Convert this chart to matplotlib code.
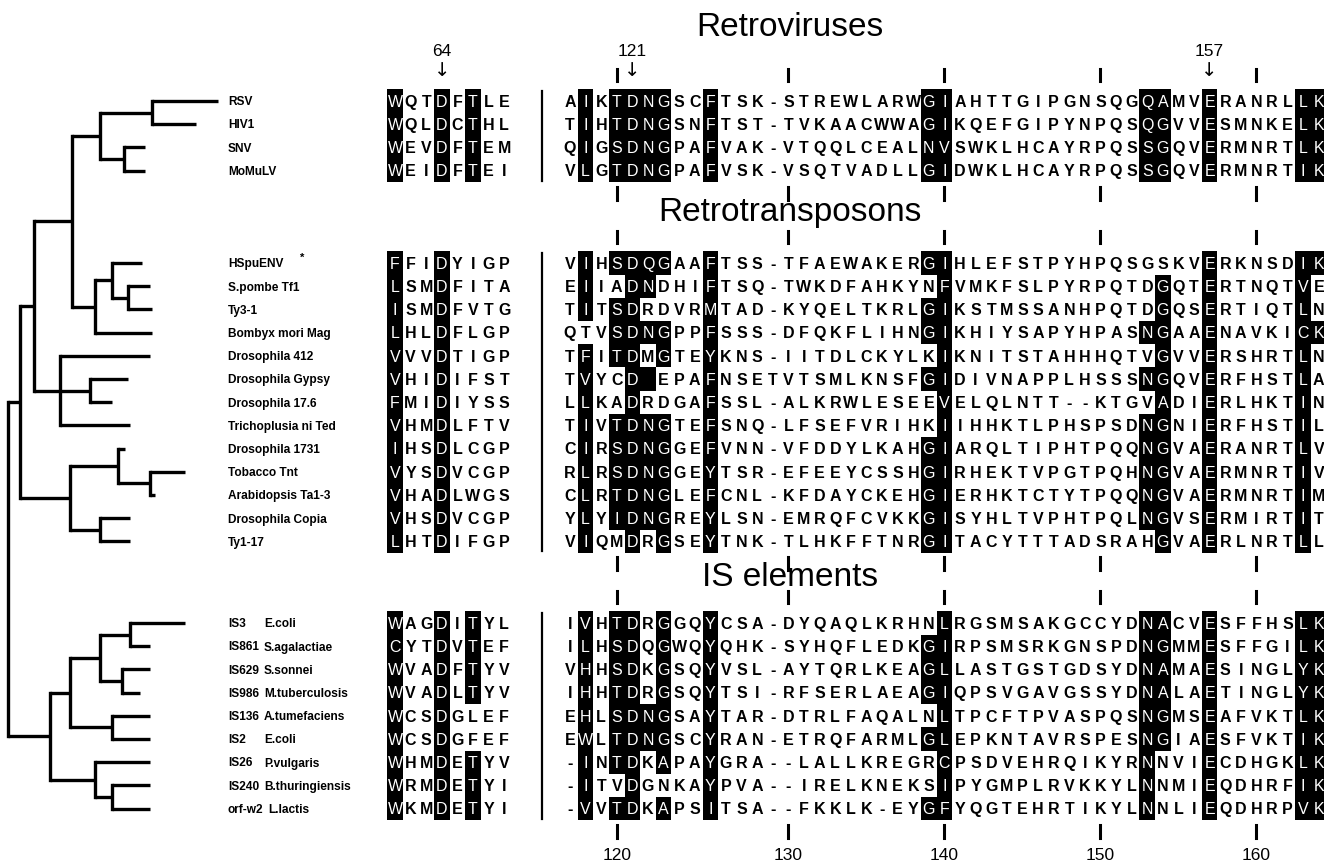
import numpy as np
import matplotlib.pyplot as plt
from matplotlib.patches import Rectangle

# ---- data -------------------------------------------------------------
group_titles = ["Retroviruses", "Retrotransposons", "IS elements"]

retro_names = ["RSV", "HIV1", "SNV", "MoMuLV"]
retro_left = ["WQTDFTLE", "WQLDCTHL", "WEVDFTEM", "WEIDFTEI"]
retro_right = [
    "AIKTDNGSCFTSK-STREWLARWGIAHTTGIPGNSQGQAMVERANRLLK",
    "TIHTDNGSNFTST-TVKAACWWAGIKQEFGIPYNPQSQGVVESMNKELK",
    "QIGSDNGPAFVAK-VTQQLCEALNVSWKLHCAYRPQSSGQVERMNRTLK",
    "VLGTDNGPAFVSK-VSQTVADLLGIDWKLHCAYRPQSSGQVERMNRTIK",
]
retro_left_shade = [[1, 4, 6]] * 4
retro_right_shade = [[2, 4, 5, 6, 7, 10, 24, 25, 38, 39, 42, 48, 49]] * 4

rt_names = ["HSpuENV", "S.pombe Tf1", "Ty3-1", "Bombyx mori Mag", "Drosophila 412",
            "Drosophila Gypsy", "Drosophila 17.6", "Trichoplusia ni Ted",
            "Drosophila 1731", "Tobacco Tnt", "Arabidopsis Ta1-3",
            "Drosophila Copia", "Ty1-17"]
rt_left = ["FFIDYIGP", "LSMDFITA", "ISMDFVTG", "LHLDFLGP", "VVVDTIGP", "VHIDIFST",
           "FMIDIYSS", "VHMDLFTV", "IHSDLCGP", "VYSDVCGP", "VHADLWGS", "VHSDVCGP",
           "LHTDIFGP"]
rt_right = [
    "VIHSDQGAAFTSS-TFAEWAKERGIHLEFSTPYHPQSGSKVERKNSDIK",
    "EIIADNDHIFTSQ-TWKDFAHKYNFVMKFSLPYRPQTDGQTERTNQTVE",
    "TITSDRDVRMTAD-KYQELTKRLGIKSTMSSANHPQTDGQSERTIQTLN",
    "QTVSDNGPPFSSS-DFQKFLIHNGIKHIYSAPYHPASNGAAENAVKICK",
    "TFITDMGTEYKNS-IITDLCKYLKIKNITSTAHHHQTVGVVERSHRTLN",
    "TVYCD EPAFNSETVTSMLKNSFGIDIVNAPPLHSSSNGQVERFHSTLA",
    "LLKADRDGAFSSL-ALKRWLESEEVELQLNTT--KTGVADIERLHKTIN",
    "TIVTDNGTEFSNQ-LFSEFVRIHKIIHHKTLPHSPSDNGNIERFHSTIL",
    "CIRSDNGGEFVNN-VFDDYLKAHGIARQLTIPHTPQQNGVAERANRTLV",
    "RLRSDNGGEYTSR-EFEEYCSSHGIRHEKTVPGTPQHNGVAERMNRTIV",
    "CLRTDNGLEFCNL-KFDAYCKEHGIERHKTCTYTPQQNGVAERMNRTIM",
    "YLYIDNGREYLSN-EMRQFCVKKGISYHLTVPHTPQLNGVSERMIRTIT",
    "VIQMDRGSEYTNK-TLHKFFTNRGITACYTTTADSRAHGVAERLNRTLL",
]
rt_left_shade = [[1, 4]] * 13
rt_right_shade = [
    [2, 4, 5, 6, 7, 10, 24, 25, 42, 48, 49],
    [2, 5, 6, 10, 25, 39, 42, 48],
    [2, 4, 5, 10, 24, 25, 39, 42, 48],
    [4, 5, 6, 7, 10, 24, 25, 38, 39, 42, 48, 49],
    [2, 4, 5, 7, 10, 25, 39, 42, 48],
    [2, 5, 6, 10, 24, 25, 38, 39, 42, 48],
    [2, 5, 10, 25, 39, 42, 48],
    [2, 4, 5, 6, 7, 10, 25, 38, 39, 42, 48],
    [2, 4, 5, 6, 7, 10, 24, 25, 38, 39, 42, 48],
    [2, 4, 5, 6, 7, 10, 24, 25, 38, 39, 42, 48],
    [2, 4, 5, 6, 7, 10, 24, 25, 38, 39, 42, 48],
    [2, 4, 5, 6, 7, 10, 24, 25, 38, 39, 42, 48],
    [2, 5, 7, 10, 24, 25, 39, 42, 48],
]

is_names = ["IS3", "IS861", "IS629", "IS986", "IS136", "IS2", "IS26", "IS240", "orf-w2"]
is_species = ["E.coli", "S.agalactiae", "S.sonnei", "M.tuberculosis", "A.tumefaciens",
              "E.coli", "P.vulgaris", "B.thuringiensis", "L.lactis"]
is_left = ["WAGDITYL", "CYTDVTEF", "WVADFTYV", "WVADLTYV", "WCSDGLEF", "WCSDGFEF",
           "WHMDETYV", "WRMDETYI", "WKMDETYI"]
is_right = [
    "IVHTDRGGQYCSA-DYQAQLKRHNLRGSMSAKGCCYDNACVESFFHSLK",
    "ILHSDQGWQYQHK-SYHQFLEDKGIRPSMSRKGNSPDNGMMESFFGILK",
    "VHHSDKGSQYVSL-AYTQRLKEAGLLASTGSTGDSYDNAMAESINGLYK",
    "IHHTDRGSQYTSI-RFSERLAEAGIQPSVGAVGSSYDNALAETINGLYK",
    "EHLSDNGSAYTAR-DTRLFAQALNLTPCFTPVASPQSNGMSEAFVKTLK",
    "EWLTDNGSCYRAN-ETRQFARMLGLEPKNTAVRSPESNGIAESFVKTIK",
    "-INTDKAPAYGRA--LALLKREGRCPSDVEHRQIKYRNNVIECDHGKLK",
    "-ITVDGNKAYPVA--IRELKNEKSIPYGMPLRVKKYLNNMIEQDHRFIK",
    "-VVTDKAPSITSA--FKKLK-EYGFYQGTEHRTIKYLNNLIEQDHRPVK",
]
is_left_shade = [[1, 4, 6]] * 4 + [[1, 4]] * 2 + [[1, 4, 6]] * 3
is_right_shade = [
    [2, 4, 5, 7, 10, 25, 38, 39, 42, 48, 49],
    [2, 4, 5, 7, 10, 24, 25, 38, 39, 42, 48, 49],
    [2, 4, 5, 7, 10, 24, 25, 38, 39, 42, 48, 49],
    [2, 4, 5, 7, 10, 24, 25, 38, 39, 42, 48, 49],
    [2, 4, 5, 6, 7, 10, 25, 38, 39, 42, 48, 49],
    [2, 4, 5, 6, 7, 10, 24, 25, 38, 39, 42, 48, 49],
    [2, 4, 5, 7, 10, 25, 38, 42, 48, 49],
    [2, 5, 10, 25, 38, 42, 48, 49],
    [2, 4, 5, 7, 10, 24, 25, 38, 42, 48, 49],
]

# numbering: alignment column -> residue number
tick_cols = [4, 15, 25, 35, 45]
tick_labels = ["120", "130", "140", "150", "160"]
arrows = [("left", 4, "64"), ("right", 5, "121"), ("right", 42, "157")]

# tree: leaf = (x_end, row), node = (x, [children])
tree = (8, [
    (20, [
        (34, [
            (72, [
                (100, [(152, [(218, 0), (196, 1)]), (124, [(145, 2), (145, 3)])]),
                (95, [(112, [(142, 4), (128, [(150, 5), (152, 6)])]), (152, 7)]),
            ]),
            (60, [(150, 8), (90, [(128, 9), (112, 10)]), (130, 11)]),
        ]),
        (70, [
            (118, [(125, 12), (150, [(185, 13), (155, 14)])]),
            (100, [(130, 15), (130, 16)]),
        ]),
    ]),
    (50, [
        (70, [
            (100, [(130, [(185, 17), (150, 18)]), (122, [(150, 19), (140, 20)])]),
            (112, [(150, 21), (150, 22)]),
        ]),
        (95, [(150, 23), (112, [(150, 24), (150, 25)])]),
    ]),
])

# ---- layout -----------------------------------------------------------
W, H = 1324, 864
fig = plt.figure(figsize=(W / 100, H / 100), dpi=100)
ax = fig.add_axes([0, 0, 1, 1])
ax.set_xlim(0, W)
ax.set_ylim(H, 0)
ax.axis("off")

NARROW = ["Liberation Sans Narrow", "Liberation Sans", "DejaVu Sans"]
SANS = ["Liberation Sans", "DejaVu Sans"]

dx = 15.6
dy = 23.2
xl0, xr0 = 395, 570
sep_x = 542
name_x = 228
first_rows = [101, 263, 623]
title_y = [28, 212, 578]
title_x = 790

groups = [
    (retro_names, None, retro_left, retro_left_shade, retro_right, retro_right_shade),
    (rt_names, None, rt_left, rt_left_shade, rt_right, rt_right_shade),
    (is_names, is_species, is_left, is_left_shade, is_right, is_right_shade),
]

row_y = []
fs = 11.5
cap = fs * 100 / 72 * 0.36
nfs = 8.6


def draw_block(seq, shade, x0, y):
    for j, ch in enumerate(seq):
        x = x0 + j * dx
        on = (j + 1) in shade
        if on:
            ax.add_patch(Rectangle((x - dx / 2, y - dy / 2), dx, dy, color="black", lw=0))
        if ch.strip():
            ax.text(x, y + cap, ch, ha="center", va="baseline", fontsize=fs,
                    family=NARROW, weight="normal" if on else "bold",
                    color="white" if on else "black")


for g, (names, species, left, lsh, right, rsh) in enumerate(groups):
    y0 = first_rows[g]
    n = len(names)
    ys = [y0 + i * dy for i in range(n)]
    row_y.extend(ys)
    for i in range(n):
        y = ys[i]
        ax.text(name_x, y + 4.3, names[i], fontsize=nfs, weight="bold", family=NARROW,
                ha="left", va="baseline")
        if species is not None:
            sx = name_x + (40 if names[i] == "orf-w2" else 36)
            ax.text(sx, y + 4.3, species[i], fontsize=nfs, weight="bold",
                    family=NARROW, ha="left", va="baseline")
        draw_block(left[i], lsh[i], xl0, y)
        draw_block(right[i], rsh[i], xr0, y)
    if g == 1:
        ax.text(name_x + 72, ys[0] - 2, "*", fontsize=8, weight="bold", family=NARROW)
    # separator
    ax.plot([sep_x, sep_x], [ys[0] - 10, ys[-1] + 10], color="black", lw=1.6)
    # ticks above/below
    for c in tick_cols:
        x = xr0 + (c - 1) * dx
        ax.plot([x, x], [ys[0] - 32, ys[0] - 20], color="black", lw=2.2)
        ax.plot([x, x], [ys[-1] + 16, ys[-1] + 29], color="black", lw=2.2)
    ax.text(title_x, title_y[g], group_titles[g], fontsize=24, family=SANS,
            ha="center", va="center")

# bottom numbering
for c, lab in zip(tick_cols, tick_labels):
    ax.text(xr0 + (c - 1) * dx, 856, lab, fontsize=12.5, family=SANS,
            ha="center", va="center")

# arrows with residue numbers
for blk, c, lab in arrows:
    x = (xl0 if blk == "left" else xr0) + (c - 1) * dx
    ax.text(x, 52, lab, fontsize=12.5, family=SANS, ha="center", va="center")
    ax.text(x, 71, "\u2193", fontsize=14, family=["DejaVu Sans"], ha="center", va="center")


# tree
def draw(node, parent_x=None):
    x, kids = node
    if isinstance(kids, int):
        y = row_y[kids]
        ax.plot([parent_x, x], [y, y], color="black", lw=2.4, solid_capstyle="butt")
        return y
    ys = [draw(k, x) for k in kids]
    ax.plot([x, x], [min(ys), max(ys)], color="black", lw=2.4, solid_capstyle="projecting")
    y = (min(ys) + max(ys)) / 2
    if parent_x is not None:
        ax.plot([parent_x, x], [y, y], color="black", lw=2.4, solid_capstyle="butt")
    return y


draw(tree)

fig.savefig("out.png", dpi=100)
